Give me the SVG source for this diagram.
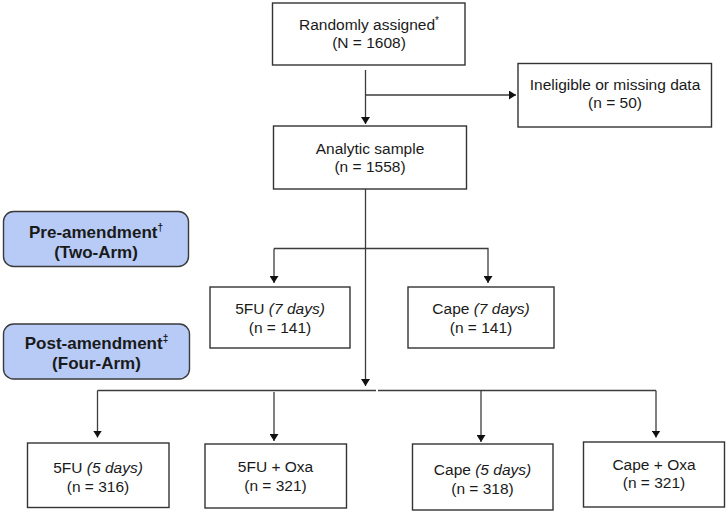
<svg xmlns="http://www.w3.org/2000/svg" width="728" height="514" viewBox="0 0 728 514">
<style>
.box{fill:#fff;stroke:#333;stroke-width:1.4}
.phase{fill:#b7cbf6;stroke:#3a3a3a;stroke-width:1.4}
.ln{fill:none;stroke:#3c3c3c;stroke-width:1.3}
text{font-family:"Liberation Sans",Arial,sans-serif;font-size:15.5px;fill:#1a1a1a;text-anchor:middle}
.b{font-weight:bold;font-size:17px}
.i{font-style:italic}
.sup{font-size:10px}
</style>
<defs>
<marker id="arr" viewBox="0 0 7 9" markerWidth="7" markerHeight="9" refX="7" refY="4.5" orient="auto" markerUnits="userSpaceOnUse">
<path d="M0,0 L7,4.5 L0,9 Z" fill="#111"/>
</marker>
</defs>
<g id="connectors">
<line class="ln" x1="365.5" y1="70" x2="365.5" y2="124" marker-end="url(#arr)"/>
<line class="ln" x1="365.5" y1="95" x2="516" y2="95" marker-end="url(#arr)"/>
<line class="ln" x1="365.5" y1="189" x2="365.5" y2="386" marker-end="url(#arr)"/>
<polyline class="ln" points="274,248.5 488,248.5 488,283" marker-end="url(#arr)"/>
<line class="ln" x1="274" y1="248.5" x2="274" y2="283" marker-end="url(#arr)"/>
<line class="ln" x1="97.5" y1="390.5" x2="376" y2="390.5"/>
<line class="ln" x1="378" y1="390.5" x2="656" y2="390.5"/>
<line class="ln" x1="97.5" y1="390.5" x2="97.5" y2="437.5" marker-end="url(#arr)"/>
<line class="ln" x1="274" y1="392" x2="274" y2="441" marker-end="url(#arr)"/>
<line class="ln" x1="481" y1="390.5" x2="481" y2="442" marker-end="url(#arr)"/>
<line class="ln" x1="656" y1="390.5" x2="656" y2="437.5" marker-end="url(#arr)"/>
</g>
<g id="randomized">
<rect class="box" x="272.5" y="3" width="192.5" height="62"/>
<text x="369" y="30">Randomly assigned<tspan class="sup" dy="-6">*</tspan></text>
<text x="369" y="48">(N = 1608)</text>
</g>
<g id="ineligible">
<rect class="box" x="518" y="63.5" width="193.5" height="63.5"/>
<text x="615" y="90">Ineligible or missing data</text>
<text x="615" y="108">(n = 50)</text>
</g>
<g id="analytic">
<rect class="box" x="273.5" y="126" width="193" height="63"/>
<text x="370" y="153.5">Analytic sample</text>
<text x="370" y="172">(n = 1558)</text>
</g>
<g id="pre-amendment">
<rect class="phase" x="3.5" y="211.5" width="185" height="55" rx="10"/>
<text class="b" x="96" y="237.5">Pre-amendment<tspan class="sup" dy="-7">†</tspan></text>
<text class="b" x="96" y="257.5">(Two-Arm)</text>
</g>
<g id="post-amendment">
<rect class="phase" x="3.5" y="324" width="186" height="55" rx="10"/>
<text class="b" x="96.5" y="349">Post-amendment<tspan class="sup" dy="-7">‡</tspan></text>
<text class="b" x="96.5" y="369">(Four-Arm)</text>
</g>
<g id="fu7">
<rect class="box" x="210" y="287" width="140" height="61"/>
<text x="280" y="314">5FU <tspan class="i">(7 days)</tspan></text>
<text x="280" y="333">(n = 141)</text>
</g>
<g id="cape7">
<rect class="box" x="408" y="287" width="146" height="61"/>
<text x="481" y="314">Cape <tspan class="i">(7 days)</tspan></text>
<text x="481" y="333">(n = 141)</text>
</g>
<g id="fu5">
<rect class="box" x="27.5" y="443" width="141.5" height="64.5"/>
<text x="98" y="473">5FU <tspan class="i">(5 days)</tspan></text>
<text x="98" y="492">(n = 316)</text>
</g>
<g id="fuoxa">
<rect class="box" x="205" y="444" width="141.5" height="64"/>
<text x="275.5" y="472">5FU + Oxa</text>
<text x="275.5" y="491">(n = 321)</text>
</g>
<g id="cape5">
<rect class="box" x="412.5" y="444" width="140.5" height="66"/>
<text x="482.5" y="475">Cape <tspan class="i">(5 days)</tspan></text>
<text x="482.5" y="494">(n = 318)</text>
</g>
<g id="capeoxa">
<rect class="box" x="583.5" y="442" width="141" height="65"/>
<text x="654" y="470">Cape + Oxa</text>
<text x="654" y="488">(n = 321)</text>
</g>
</svg>
